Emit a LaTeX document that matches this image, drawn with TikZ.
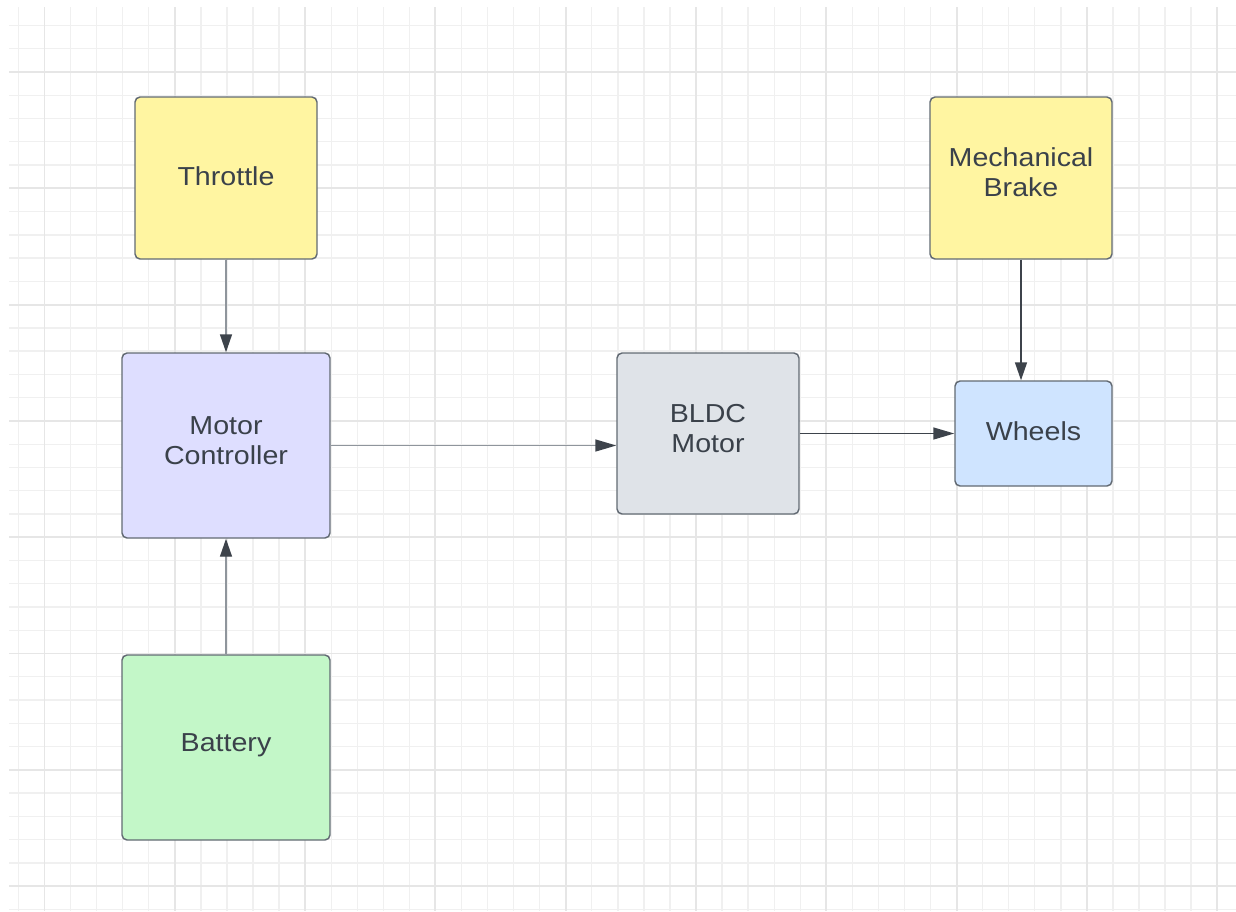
\documentclass[tikz,border=0pt]{standalone}
\usepackage{fontspec}
\setmainfont{Liberation Sans}[FakeStretch=1.1]
\usetikzlibrary{arrows.meta}
\definecolor{gridminor}{HTML}{F0F0F0}
\definecolor{gridmajor}{HTML}{E6E6E6}
\definecolor{txt}{HTML}{3A414A}
\definecolor{bord}{HTML}{626A73}
\definecolor{yel}{HTML}{FFF5A1}
\definecolor{lav}{HTML}{DEDEFF}
\definecolor{grn}{HTML}{C3F7C8}
\definecolor{gry}{HTML}{DFE3E8}
\definecolor{blu}{HTML}{CFE4FF}
\definecolor{lineLight}{HTML}{8F959C}
\definecolor{lineDark}{HTML}{3D434B}
\tikzset{
  box/.style={draw=bord, line width=1.1pt, rounded corners=3.8pt, inner sep=0pt,
    align=center, text=txt, font=\fontsize{19.5}{22.5}\selectfont},
  lightarrow/.style={line width=1.1pt, draw=lineLight, -{Triangle[length=18*0.75pt, width=12*0.75pt, color=lineDark]}},
  lightharrow/.style={line width=1.1pt, draw=lineLight, -{Triangle[length=21*0.75pt, width=12*0.75pt, color=lineDark]}},
  darkarrow/.style={line width=1.1pt, draw=lineDark, -{Triangle[length=18*0.75pt, width=12*0.75pt]}},
  darkharrow/.style={line width=1.1pt, draw=lineDark, -{Triangle[length=21*0.75pt, width=12*0.75pt]}},
  gminor/.style={draw=gridminor, line width=1.0pt},
  gmajor/.style={draw=gridmajor, line width=1.4pt},
}
\begin{document}
\begin{tikzpicture}[x=0.75pt, y=-0.75pt]
\fill[white] (0,0) rectangle (1236,911);
\useasboundingbox (0,0) rectangle (1236,911);
% grid minor
\foreach \i in {0,...,46} \draw[gminor] ({18.45+26.06*\i},7) -- ({18.45+26.06*\i},911);
\foreach \i in {0,...,38} \draw[gminor] (9,{25.5+23.26*\i}) -- (1236,{25.5+23.26*\i});
% grid major
\foreach \i in {0,...,9} \draw[gmajor] ({44.5+130.3*\i},7) -- ({44.5+130.3*\i},911);
\foreach \i in {0,...,7} \draw[gmajor] (9,{72+116.3*\i}) -- (1236,{72+116.3*\i});
% nodes
\node[box, fill=yel, minimum width=182*0.75pt, minimum height=162*0.75pt, text depth=3pt] (throttle) at (226,178) {Throttle};
\node[box, fill=lav, minimum width=208*0.75pt, minimum height=185*0.75pt, text depth=8pt] (mc) at (226,445.5) {Motor\\Controller};
\node[box, fill=grn, minimum width=208*0.75pt, minimum height=185*0.75pt, text depth=7pt] (battery) at (226,747.5) {Battery};
\node[box, fill=gry, minimum width=182*0.75pt, minimum height=161*0.75pt, text depth=8pt] (bldc) at (708,433.5) {BLDC\\Motor};
\node[box, fill=blu, minimum width=157*0.75pt, minimum height=105*0.75pt, text depth=4pt] (wheels) at (1033.5,433.5) {Wheels};
\node[box, fill=yel, minimum width=182*0.75pt, minimum height=162*0.75pt, text depth=9pt] (brake) at (1021,178) {Mechanical\\Brake};
% connectors
\draw[lightarrow] (throttle.south) -- (mc.north);
\draw[lightarrow] (battery.north) -- (mc.south);
\draw[lightharrow] (mc.east) -- (mc.east -| bldc.west);
\draw[darkharrow] (bldc.east) -- (wheels.west);
\draw[darkarrow] (brake.south) -- (brake.south |- wheels.north);
\end{tikzpicture}
\end{document}
